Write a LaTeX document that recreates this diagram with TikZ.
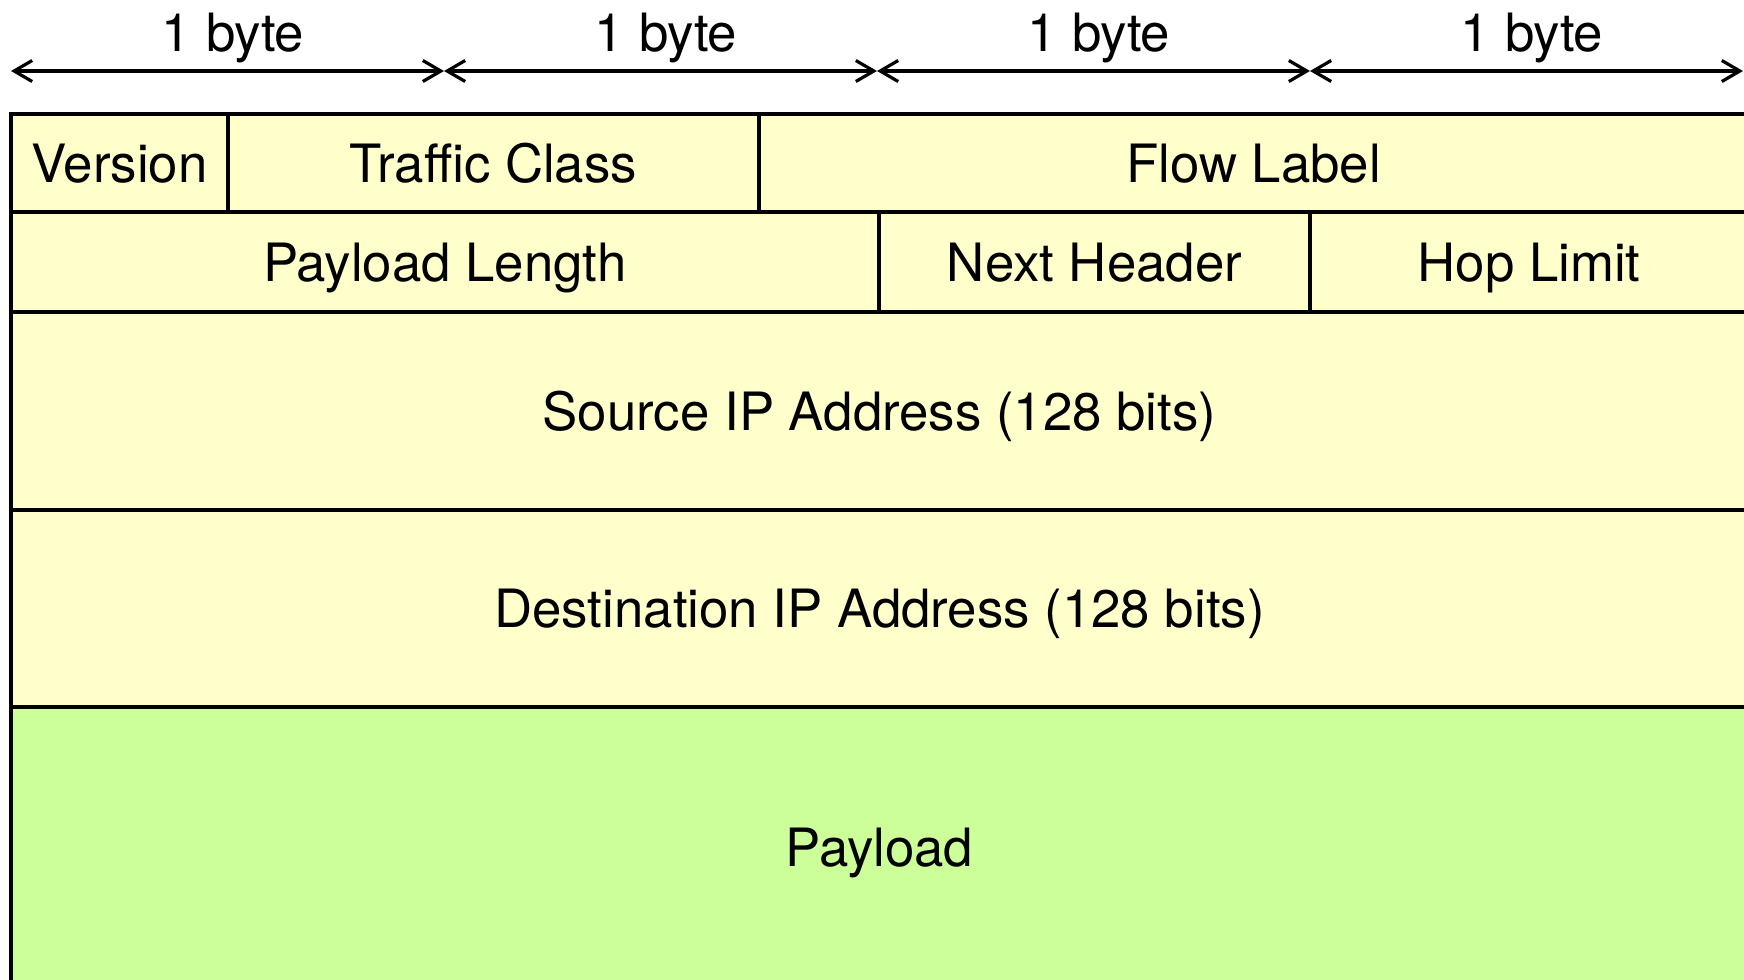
\documentclass[tikz,border=0pt]{standalone}
\usepackage{fontspec}
\setmainfont{TeX Gyre Heros}
\usepackage{xcolor}
\usetikzlibrary{arrows.meta,positioning}

\definecolor{hdryellow}{HTML}{FFFFCC}
\definecolor{payloadgreen}{HTML}{CCFF99}
\newcommand{\fieldfont}{\fontsize{26.4pt}{31pt}\selectfont}

\tikzset{
  field/.style={rectangle,draw,line width=2pt,fill=hdryellow,anchor=north west,
    inner sep=0pt,outer sep=0pt,font=\fieldfont,text height=19pt,text depth=0pt},
  bytearrow/.style={{Straight Barb[length=9pt,width=10.5pt]}-{Straight Barb[length=9pt,width=10.5pt]},line width=1.6pt}
}

\begin{document}
\begin{tikzpicture}[x=0.5pt,y=-0.5pt]
\path[use as bounding box,clip] (0,0) rectangle (1744,979);

% byte ruler
\foreach \i/\x in {0/11,1/444,2/877,3/1310,4/1743}
  \coordinate (b\i) at (\x,71);
\foreach \i/\j in {0/1,1/2,2/3,3/4}
  \draw[bytearrow] (b\i) -- (b\j) node[midway,anchor=base,xshift=2.8pt,yshift=9.5pt,font=\fieldfont] (byte\i) {1 byte};

% first row
\node[field,minimum width=108.5pt,minimum height=49pt] (ver) at (11,114) {Version};
\node[field,minimum width=265.5pt,minimum height=49pt] (tclass) at (ver.north east) {Traffic Class};
\node[field,minimum width=494.5pt,minimum height=49pt] (flow) at (tclass.north east) {Flow Label};

% second row
\node[field,minimum width=434pt,minimum height=50pt] (plen) at (ver.south west) {Payload Length};
\node[field,minimum width=215.5pt,minimum height=50pt] (nexthdr) at (plen.north east) {Next Header};
\node[field,minimum width=219pt,minimum height=50pt] (hoplim) at (nexthdr.north east) {Hop Limit};

% addresses and payload
\node[field,minimum width=868.5pt,minimum height=99pt] (srcaddr) at (plen.south west) {Source IP Address (128 bits)};
\node[field,minimum width=868.5pt,minimum height=98.5pt] (dstaddr) at (srcaddr.south west) {Destination IP Address (128 bits)};
\node[field,fill=payloadgreen,minimum width=868.5pt,minimum height=140.5pt] (payload) at (dstaddr.south west) {Payload};
\end{tikzpicture}
\end{document}
